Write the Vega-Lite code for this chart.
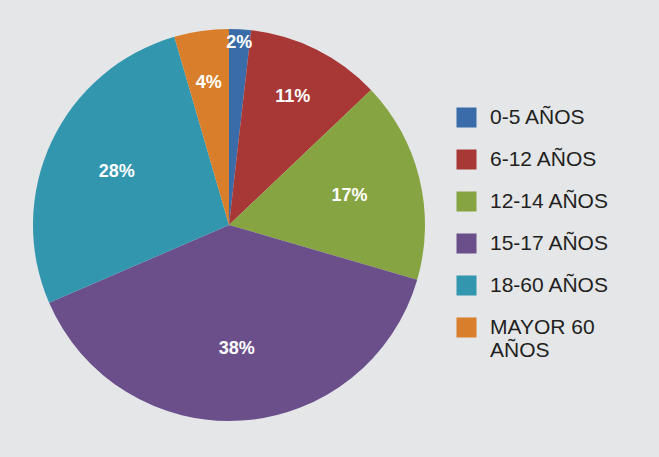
{
  "$schema": "https://vega.github.io/schema/vega-lite/v6.json",
  "autosize": {"type": "none"},
  "width": 432,
  "height": 440,
  "padding": {"left": 13, "top": 5, "right": 214, "bottom": 12},
  "background": "#e4e6e8",
  "config": {
    "view": {"stroke": null},
    "legend": {"padding": 0}
  },
  "data": {
    "values": [
      {"grupo": "0-5 AÑOS", "valor": 1.8, "etiqueta": "2%", "orden": 1},
      {"grupo": "6-12 AÑOS", "valor": 11.1, "etiqueta": "11%", "orden": 2},
      {"grupo": "12-14 AÑOS", "valor": 16.6, "etiqueta": "17%", "orden": 3},
      {"grupo": "15-17 AÑOS", "valor": 39.0, "etiqueta": "38%", "orden": 4},
      {"grupo": "18-60 AÑOS", "valor": 27.0, "etiqueta": "28%", "orden": 5},
      {"grupo": "MAYOR 60 AÑOS", "valor": 4.5, "etiqueta": "4%", "orden": 6}
    ]
  },
  "encoding": {
    "theta": {"field": "valor", "type": "quantitative", "stack": true},
    "order": {"field": "orden", "type": "quantitative"}
  },
  "layer": [
    {
      "mark": {"type": "arc", "outerRadius": 196},
      "encoding": {
        "color": {
          "field": "grupo",
          "type": "nominal",
          "scale": {
            "domain": ["0-5 AÑOS", "6-12 AÑOS", "12-14 AÑOS", "15-17 AÑOS", "18-60 AÑOS", "MAYOR 60 AÑOS"],
            "range": ["#396ca8", "#a83836", "#87a442", "#6b4f8b", "#3196ae", "#d97f2b"]
          },
          "legend": {
            "title": null,
            "orient": "none",
            "legendX": 443,
            "legendY": 102,
            "symbolType": "square",
            "symbolSize": 400,
            "symbolStrokeWidth": 0,
            "symbolOpacity": 1,
            "labelFont": "Liberation Sans",
            "labelFontSize": 21,
            "labelColor": "#231f20",
            "labelOffset": 13,
            "labelLimit": 300,
            "rowPadding": 20,
            "labelExpr": "datum.label == 'MAYOR 60 AÑOS' ? ['MAYOR 60', 'AÑOS'] : datum.label"
          }
        }
      }
    },
    {
      "mark": {"type": "text", "radius": 182, "fill": "white", "font": "Liberation Sans", "fontWeight": "bold", "fontSize": 18},
      "encoding": {
        "text": {"condition": {"test": "datum.grupo == '0-5 AÑOS'", "field": "etiqueta"}, "value": ""}
      }
    },
    {
      "mark": {"type": "text", "radius": 143, "fill": "white", "font": "Liberation Sans", "fontWeight": "bold", "fontSize": 18},
      "encoding": {
        "text": {"condition": {"test": "datum.grupo == '6-12 AÑOS' || datum.grupo == 'MAYOR 60 AÑOS'", "field": "etiqueta"}, "value": ""}
      }
    },
    {
      "mark": {"type": "text", "radius": 124, "fill": "white", "font": "Liberation Sans", "fontWeight": "bold", "fontSize": 18},
      "encoding": {
        "text": {"condition": {"test": "datum.grupo == '12-14 AÑOS' || datum.grupo == '15-17 AÑOS' || datum.grupo == '18-60 AÑOS'", "field": "etiqueta"}, "value": ""}
      }
    }
  ]
}
